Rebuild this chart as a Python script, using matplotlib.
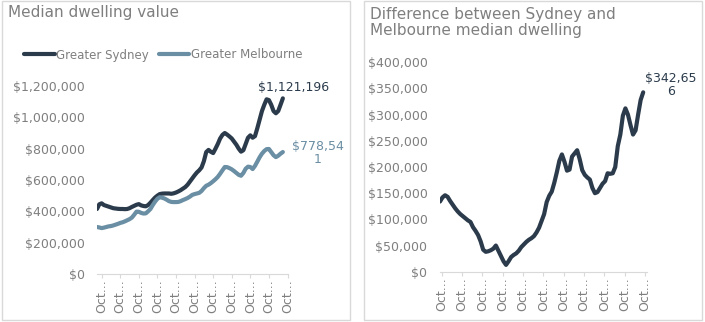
import matplotlib
matplotlib.use("Agg")
import matplotlib.pyplot as plt
from matplotlib.patches import Rectangle
from matplotlib.ticker import FuncFormatter

# quarterly values, Apr 2004 .. Apr 2024
quarters = list(range(81))

sydney = [415, 445, 451, 440, 435, 430, 425, 420, 418, 416,
          415, 415, 414, 415, 420, 428, 435, 442, 446, 438,
          434, 432, 440, 455, 472, 488, 500, 510, 513, 514,
          514, 514, 512, 515, 520, 527, 535, 545, 555, 570,
          590, 610, 630, 648, 662, 680, 720, 778, 792, 780,
          772, 800, 830, 865, 888, 900, 890, 878, 865, 845,
          825, 800, 781, 790, 830, 870, 885, 870, 880, 930,
          985, 1040, 1080, 1115, 1110, 1080, 1040, 1026, 1040, 1080,
          1121.196]
sydney = [v * 1000 for v in sydney]

melbourne = [300, 297, 293, 296, 300, 304, 306, 310, 315, 320,
             326, 330, 336, 343, 350, 360, 378, 398, 397, 390,
             386, 387, 400, 415, 440, 462, 480, 490, 487, 482,
             474, 465, 460, 459, 459, 460, 465, 472, 478, 485,
             494, 505, 510, 514, 518, 530, 548, 563, 570, 580,
             592, 605, 620, 640, 662, 683, 682, 676, 668, 657,
             645, 633, 627, 645, 672, 685, 683, 670, 690, 717,
             745, 768, 785, 797, 798, 778, 758, 746, 755, 768,
             778.541]
melbourne = [v * 1000 for v in melbourne]

difference = [134, 142, 146, 143, 135, 128, 121, 115, 110, 106,
              102, 98, 95, 85, 78, 70, 58, 42, 38, 39,
              41, 44, 50, 40, 30, 20, 13, 20, 28, 32,
              35, 40, 47, 52, 57, 61, 64, 68, 75, 84,
              97, 110, 133, 145, 153, 170, 190, 212, 224, 210,
              193, 195, 220, 226, 232, 215, 194, 185, 180, 176,
              160, 150, 152, 160, 168, 173, 188, 187, 188, 200,
              240, 262, 298, 312, 300, 280, 262, 270, 300, 328,
              342.656]
difference = [v * 1000 for v in difference]

tick_labels = ["Oct..."] * 11

SYD = "#2b3b4b"
MEL = "#6a8ea3"
GREY = "#7f7f7f"
FRAME = "#d9d9d9"

fig = plt.figure(figsize=(7.05, 3.22), dpi=100)
W, H = 705.0, 322.0

def fx(px):
    return px / W

def fy(py):
    return 1 - py / H

# panel frames
fig.add_artist(Rectangle((fx(2), fy(320)), fx(350) - fx(2), fy(1) - fy(320),
                         transform=fig.transFigure, fill=False, ec=FRAME, lw=1))
fig.add_artist(Rectangle((fx(364), fy(320)), fx(702) - fx(364), fy(1) - fy(320),
                         transform=fig.transFigure, fill=False, ec=FRAME, lw=1))

money = FuncFormatter(lambda v, p: "${:,.0f}".format(v))


def style(ax, ticks):
    for s in ["top", "right", "left"]:
        ax.spines[s].set_visible(False)
    ax.spines["bottom"].set_color(FRAME)
    ax.yaxis.set_major_formatter(money)
    ax.tick_params(axis="y", length=0, pad=9, labelsize=9, labelcolor=GREY)
    ax.set_xticks(ticks)
    ax.set_xticklabels(tick_labels, rotation=90, va="top", ha="center")
    ax.tick_params(axis="x", length=3, color=FRAME, pad=1, labelsize=9, labelcolor=GREY)


# left chart
ax1 = fig.add_axes([fx(97), fy(274), fx(287.5) - fx(97), fy(86) - fy(274)])
ax1.plot(quarters, sydney, color=SYD, lw=3, solid_joinstyle="round",
         solid_capstyle="round", label="Greater Sydney")
ax1.plot(quarters, melbourne, color=MEL, lw=3, solid_joinstyle="round",
         solid_capstyle="round", label="Greater Melbourne")
ax1.set_xlim(0, 82)
ax1.set_ylim(0, 1200000)
ax1.set_yticks(range(0, 1200001, 200000))
style(ax1, [2 + 8 * k for k in range(11)])
ax1.annotate("$1,121,196", (quarters[-1], sydney[-1]), xytext=(8, 8),
             textcoords="offset points", ha="center", va="center",
             fontsize=9, color=SYD, annotation_clip=False)
ax1.annotate("$778,54\n1", (quarters[-1], melbourne[-1]), xytext=(25, -1),
             textcoords="offset points", ha="center", va="center",
             fontsize=9, color=MEL, linespacing=1.0, annotation_clip=False)
fig.legend(*ax1.get_legend_handles_labels(), loc="center left",
           bbox_to_anchor=(fx(24), fy(55)), ncol=2, frameon=False,
           fontsize=8.5, labelcolor=GREY, handlelength=2.6, handletextpad=0.15,
           columnspacing=0.8, borderaxespad=0, borderpad=0)
fig.text(fx(8), fy(13), "Median dwelling value", fontsize=11, color=GREY,
         ha="left", va="center")

# right chart
ax2 = fig.add_axes([fx(440), fy(271.7), fx(647) - fx(440), fy(62.3) - fy(271.7)])
ax2.plot(quarters, difference, color=SYD, lw=3, solid_joinstyle="round",
         solid_capstyle="round")
ax2.set_xlim(0, 81.5)
ax2.set_ylim(0, 400000)
ax2.set_yticks(range(0, 400001, 50000))
style(ax2, [0.7 + 8 * k for k in range(11)])
ax2.annotate("$342,65\n6", (quarters[-1], difference[-1]), xytext=(20, 5),
             textcoords="offset points", ha="center", va="center",
             fontsize=9, color=SYD, linespacing=1.0, annotation_clip=False)
fig.text(fx(370), fy(22.5), "Difference between Sydney and\nMelbourne median dwelling",
         fontsize=11, color=GREY, ha="left", va="center", linespacing=1.15)

fig.savefig("out.png", dpi=100)
